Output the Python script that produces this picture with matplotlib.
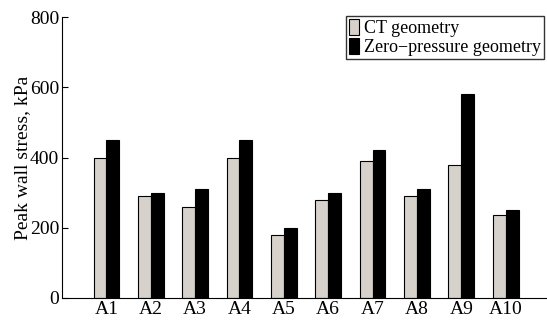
import matplotlib
matplotlib.use("Agg")
import matplotlib.pyplot as plt
import numpy as np

categories = ["A1", "A2", "A3", "A4", "A5", "A6", "A7", "A8", "A9", "A10"]
ct_geometry = [400, 290, 260, 400, 180, 280, 390, 290, 380, 235]
zero_pressure = [450, 300, 310, 450, 200, 300, 420, 310, 580, 250]
yticks = [0, 200, 400, 600, 800]

plt.rcParams['font.family'] = ['Liberation Serif', 'DejaVu Serif']

fig = plt.figure(figsize=(5.47, 3.2), dpi=100)
ax = fig.add_axes([62/547, 1 - 298/320, 1 - 62/547, (298-17)/320])

x = np.arange(1, len(categories) + 1)
w = 0.29
ax.bar(x - w/2, ct_geometry, w, color='#d6d2cb', edgecolor='black', linewidth=0.8, label='CT geometry')
ax.bar(x + w/2, zero_pressure, w, color='black', edgecolor='black', linewidth=0.8, label='Zero\u2212pressure geometry')

ax.set_xlim(0, 10.93)
ax.set_ylim(0, 800)
ax.set_yticks(yticks)
ax.set_xticks(x)
ax.set_xticklabels(categories)
ax.tick_params(axis='y', direction='in', length=4, labelsize=14, pad=2)
ax.tick_params(axis='x', length=0, labelsize=14, pad=2)
ax.spines['top'].set_visible(False)
ax.spines['right'].set_visible(False)
ax.set_ylabel('Peak wall stress, kPa', fontsize=14, labelpad=-1)

leg = ax.legend(loc='upper right', fontsize=13, frameon=True, fancybox=False,
                handlelength=0.55, handleheight=1.0, handletextpad=0.3,
                borderpad=0.15, labelspacing=0.05, borderaxespad=0.0)
leg.get_frame().set_edgecolor('black')
leg.get_frame().set_linewidth(1.0)
leg.set_bbox_to_anchor((544/547, 1 - 16/320), transform=fig.transFigure)

fig.savefig('out.png', dpi=100)
